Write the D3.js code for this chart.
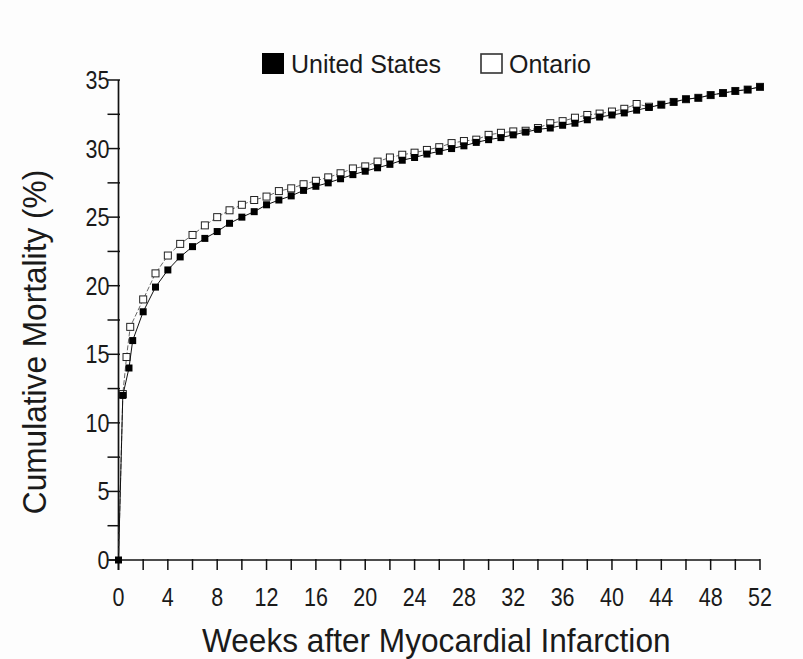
<!DOCTYPE html>
<html>
<head>
<meta charset="utf-8">
<script src="https://cdn.jsdelivr.net/npm/d3@7"></script>
<style>
  html, body { margin: 0; padding: 0; background: #fdfdfd; }
  svg { display: block; }
  .narrow { font-family: "Liberation Sans", Arial, sans-serif; }
</style>
</head>
<body>
<svg id="chart" width="803" height="659"></svg>
<script>
// ---- data ----
const usWeeks = [0, 0.35, 0.85, 1.15, 2, 3, 4, 5, 6, 7, 8, 9, 10, 11, 12, 13, 14, 15, 16, 17, 18, 19, 20,
  21, 22, 23, 24, 25, 26, 27, 28, 29, 30, 31, 32, 33, 34, 35, 36, 37, 38, 39, 40, 41, 42, 43, 44, 45, 46,
  47, 48, 49, 50, 51, 52];
const usValues = [0, 12.0, 14.0, 16.0, 18.1, 19.9, 21.15, 22.1, 22.85, 23.45, 23.95, 24.55, 25.0, 25.4, 25.9,
  26.25, 26.55, 26.95, 27.25, 27.5, 27.8, 28.1, 28.35, 28.6, 28.85, 29.15, 29.35, 29.6, 29.8, 30.0, 30.2,
  30.45, 30.65, 30.8, 31.0, 31.2, 31.4, 31.5, 31.7, 31.85, 32.1, 32.3, 32.45, 32.6, 32.8, 33.0, 33.2, 33.4,
  33.6, 33.7, 33.9, 34.05, 34.2, 34.3, 34.5];

const ontarioWeeks = [0, 0.2, 0.35, 0.65, 0.95, 2, 3, 4, 5, 6, 7, 8, 9, 10, 11, 12, 13, 14, 15, 16, 17, 18, 19, 20,
  21, 22, 23, 24, 25, 26, 27, 28, 29, 30, 31, 32, 33, 34, 35, 36, 37, 38, 39, 40, 41, 42, 43, 44, 45, 46,
  47, 48, 49, 50, 51, 52];
const ontarioValues = [0, 7.0, 12.1, 14.8, 17.0, 19.0, 20.9, 22.2, 23.05, 23.7, 24.4, 25.0, 25.5, 25.9, 26.25,
  26.5, 26.9, 27.1, 27.4, 27.65, 27.9, 28.2, 28.55, 28.7, 29.05, 29.35, 29.55, 29.7, 29.9, 30.1, 30.4, 30.55,
  30.65, 31.0, 31.15, 31.25, 31.3, 31.5, 31.85, 32.0, 32.25, 32.45, 32.55, 32.7, 32.9, 33.25, 33.05, 33.2,
  33.4, 33.6, 33.7, 33.9, 34.05, 34.2, 34.3, 34.5];
// Ontario points drawn with a marker (the first two only carry the dashed line)
const ontarioMarkerFrom = 2;

const xTickValues = d3.range(0, 53, 2);
const xTickLabels = d3.range(0, 53, 4);
const yTickValues = d3.range(0, 35.01, 2.5);
const yTickLabels = [0, 5, 10, 15, 20, 25, 30, 35];

const legendLabels = ["United States", "Ontario"];
const xTitle = "Weeks after Myocardial Infarction";
const yTitle = "Cumulative Mortality (%)";

// ---- layout ----
const svg = d3.select("#chart");
const x = d3.scaleLinear().domain([0, 52]).range([118.5, 760]);
const y = d3.scaleLinear().domain([0, 35]).range([560, 80]);
const ink = "#1a1a1a";

// axes
const gx = svg.append("g");
gx.append("line").attr("x1", x(0) - 10).attr("x2", x(52)).attr("y1", y(0)).attr("y2", y(0))
  .attr("stroke", "#111").attr("stroke-width", 1.7);
gx.selectAll("line.t").data(xTickValues).join("line").attr("class", "t")
  .attr("x1", d => x(d)).attr("x2", d => x(d)).attr("y1", y(0) - 1).attr("y2", y(0) + 10)
  .attr("stroke", "#111").attr("stroke-width", 1.5);
gx.selectAll("text").data(xTickLabels).join("text").attr("class", "narrow")
  .attr("transform", d => `translate(${x(d)},${y(0) + 46}) scale(0.86,1)`)
  .attr("text-anchor", "middle").attr("font-size", 25).attr("fill", ink).text(d => d);

const gy = svg.append("g");
gy.append("line").attr("x1", x(0)).attr("x2", x(0)).attr("y1", y(35)).attr("y2", y(0) + 10)
  .attr("stroke", "#111").attr("stroke-width", 1.7);
gy.selectAll("line.t").data(yTickValues).join("line").attr("class", "t")
  .attr("x1", x(0) - 11).attr("x2", x(0) + 1.5).attr("y1", d => y(d)).attr("y2", d => y(d))
  .attr("stroke", "#111").attr("stroke-width", 1.5);
gy.selectAll("text").data(yTickLabels).join("text").attr("class", "narrow")
  .attr("transform", d => `translate(${x(0) - 9},${y(d) + 9}) scale(0.86,1)`)
  .attr("text-anchor", "end").attr("font-size", 25).attr("fill", ink).text(d => d);

// titles
svg.append("text").attr("class", "narrow")
  .attr("transform", `translate(${(x(0) + x(52)) / 2 - 3},652) scale(0.93,1)`)
  .attr("text-anchor", "middle").attr("font-size", 34).attr("fill", ink).text(xTitle);
svg.append("text").attr("class", "narrow")
  .attr("transform", `translate(46, ${(y(0) + y(35)) / 2 + 22}) rotate(-90) scale(0.93,1)`)
  .attr("text-anchor", "middle").attr("font-size", 34).attr("fill", ink).text(yTitle);

// series
const ont = ontarioWeeks.map((w, i) => ({ w, v: ontarioValues[i], i }));
const us = usWeeks.map((w, i) => ({ w, v: usValues[i] }));
const line = d3.line().x(d => x(d.w)).y(d => y(d.v));

svg.append("path").datum(ont).attr("d", line).attr("fill", "none")
  .attr("stroke", "#666").attr("stroke-width", 1).attr("stroke-dasharray", "5,2");
const ms = 7;
svg.append("g").selectAll("rect").data(ont.filter(d => d.i >= ontarioMarkerFrom)).join("rect")
  .attr("x", d => x(d.w) - ms / 2).attr("y", d => y(d.v) - ms / 2)
  .attr("width", ms).attr("height", ms).attr("fill", "#fff").attr("stroke", "#222").attr("stroke-width", 1);

svg.append("path").datum(us).attr("d", line).attr("fill", "none")
  .attr("stroke", "#111").attr("stroke-width", 1);
svg.append("g").selectAll("rect").data(us).join("rect")
  .attr("x", d => x(d.w) - ms / 2).attr("y", d => y(d.v) - ms / 2)
  .attr("width", ms).attr("height", ms).attr("fill", "#000");

// legend
const lg = svg.append("g").attr("font-family", "'Liberation Sans', Arial, sans-serif").attr("font-size", 25);
lg.append("rect").attr("x", 262).attr("y", 53).attr("width", 22).attr("height", 21).attr("fill", "#000");
lg.append("text").attr("x", 291).attr("y", 73).attr("fill", ink).text(legendLabels[0]);
lg.append("rect").attr("x", 481).attr("y", 54).attr("width", 21).attr("height", 19)
  .attr("fill", "#fff").attr("stroke", "#333").attr("stroke-width", 1.6);
lg.append("text").attr("x", 509).attr("y", 73).attr("fill", ink).text(legendLabels[1]);
</script>
</body>
</html>
